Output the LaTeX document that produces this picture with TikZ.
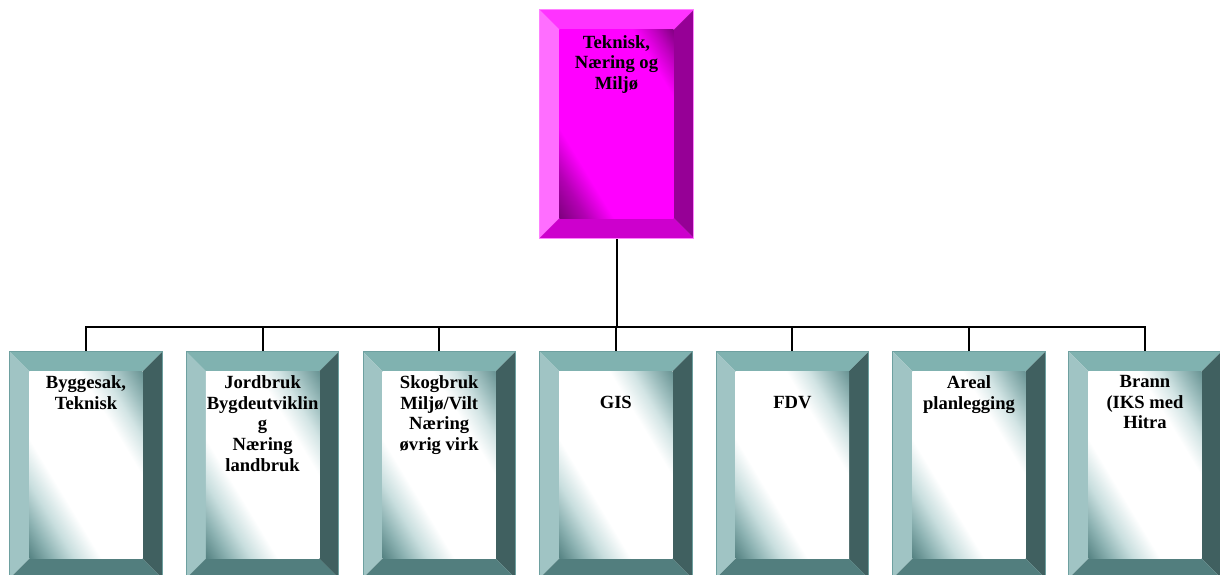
\documentclass[tikz,border=0pt]{standalone}
\usepackage{fontspec}
\setmainfont{Liberation Serif}
\usetikzlibrary{calc}
\definecolor{mTop}{RGB}{255,51,255}
\definecolor{mLeft}{RGB}{255,110,255}
\definecolor{mRight}{RGB}{150,0,150}
\definecolor{mBottom}{RGB}{205,0,205}
\definecolor{mLine}{RGB}{255,130,255}
\definecolor{mA}{RGB}{125,0,125}
\definecolor{mB}{RGB}{180,0,180}
\definecolor{mMid}{RGB}{255,0,255}
\definecolor{mD}{RGB}{190,0,190}
\definecolor{mE}{RGB}{130,0,130}
\definecolor{tTop}{RGB}{128,178,176}
\definecolor{tLeft}{RGB}{160,196,196}
\definecolor{tRight}{RGB}{64,96,96}
\definecolor{tBottom}{RGB}{82,126,126}
\definecolor{tLine}{RGB}{110,160,160}
\definecolor{tA}{RGB}{85,130,130}
\definecolor{tB}{RGB}{140,178,178}
\definecolor{tC}{RGB}{200,222,222}
\definecolor{tMid}{RGB}{255,255,255}
\definecolor{tD}{RGB}{210,228,228}
\definecolor{tE}{RGB}{160,192,192}
\definecolor{tF}{RGB}{105,148,148}
\pgfdeclareverticalshading{mshade}{100bp}{color(0bp)=(mA); color(25bp)=(mA); color(31bp)=(mB); color(37bp)=(mMid); color(66bp)=(mMid); color(71bp)=(mD); color(75bp)=(mE); color(100bp)=(mE)}
\pgfdeclareverticalshading{tshade}{100bp}{color(0bp)=(tA); color(25bp)=(tA); color(30bp)=(tB); color(35bp)=(tC); color(41bp)=(tMid); color(61bp)=(tMid); color(66bp)=(tD); color(70bp)=(tE); color(75bp)=(tF); color(100bp)=(tF)}
% #1 node, #2 colour prefix, #3 bevel depth, #4 canvas rotation, #5 half extent of gradient
\newcommand\bevelfaces[5]{%
  \fill[#2Top] (#1.north west) -- (#1.north east) -- ($(#1.north east)+(-#3,#3)$) -- ($(#1.north west)+(#3,#3)$) -- cycle;
  \fill[#2Left] (#1.north west) -- ($(#1.north west)+(#3,#3)$) -- ($(#1.south west)+(#3,-#3)$) -- (#1.south west) -- cycle;
  \fill[#2Right] (#1.north east) -- (#1.south east) -- ($(#1.south east)+(-#3,-#3)$) -- ($(#1.north east)+(-#3,#3)$) -- cycle;
  \fill[#2Bottom] (#1.south west) -- (#1.south east) -- ($(#1.south east)+(-#3,-#3)$) -- ($(#1.south west)+(#3,-#3)$) -- cycle;
  \begin{scope}
    \clip ($(#1.north west)+(#3,#3)$) rectangle ($(#1.south east)+(-#3,-#3)$);
    \shade[shading=#2shade, transform canvas={shift={(#1.center)}, rotate=#4}] (-200,-#5) rectangle (200,#5);
  \end{scope}
  \draw[#2Line, line width=0.8pt] (#1.north west) rectangle (#1.south east);
}
\tikzset{
  topbox/.style={rectangle, inner sep=0pt, minimum width=154pt, minimum height=228pt},
  subbox/.style={rectangle, inner sep=0pt, minimum width=152pt, minimum height=226pt},
  label/.style={inner sep=0pt, anchor=north, align=center, font=\fontsize{18.6}{20.7}\selectfont\bfseries},
  conn/.style={line width=2pt, black}
}
\begin{document}
\begin{tikzpicture}[x=1pt, y=-1pt]
\useasboundingbox (0,0) rectangle (1220,575);
% nodes
\node[topbox] (top) at (616.5,124) {};
\foreach \i/\cx in {1/86, 2/262.6, 3/439.2, 4/615.8, 5/792.4, 6/969, 7/1145}{
  \node[subbox] (b\i) at (\cx,465) {};
}
\coordinate (bus) at (616.5,327);
% connectors
\draw[conn] (top.south) -- (bus);
\foreach \i in {1,...,7}{ \draw[conn] (bus) -| (b\i.north); }
% boxes
\bevelfaces{top}{m}{20}{-58.9}{97.6}
\foreach \i in {1,...,7}{ \bevelfaces{b\i}{t}{19.5}{-58.9}{96.7} }
% labels
\node[label] (ttop) at ($(top.north)+(0,25.3)$) {Teknisk,\\Næring og\\Miljø};
\node[label] (t1) at ($(b1.north)+(0,23.4)$) {Byggesak,\\Teknisk};
\node[label] (t2) at ($(b2.north)+(0,23.4)$) {Jordbruk\\Bygdeutviklin\\g\\Næring\\landbruk};
\node[label] (t3) at ($(b3.north)+(0,23.4)$) {Skogbruk\\Miljø/Vilt\\Næring\\øvrig virk};
\node[label] (t4) at ($(b4.north)+(0,44.3)$) {GIS};
\node[label] (t5) at ($(b5.north)+(0,44.3)$) {FDV};
\node[label] (t6) at ($(b6.north)+(0,23.4)$) {Areal\\planlegging};
\node[label] (t7) at ($(b7.north)+(0,23.4)$) {Brann\\(IKS med\\Hitra};
\end{tikzpicture}
\end{document}
